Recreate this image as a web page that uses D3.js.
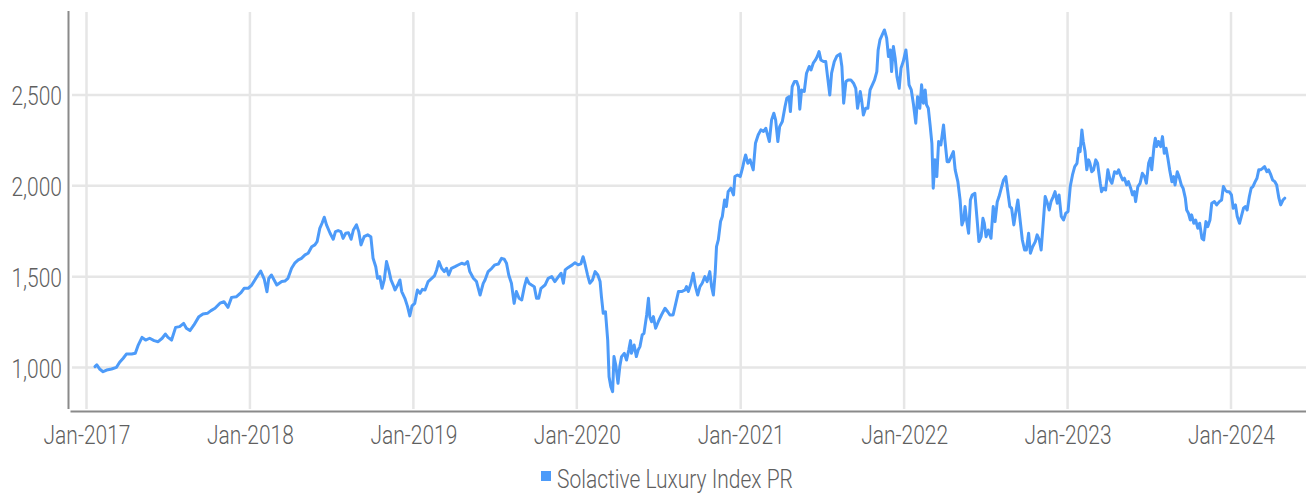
<!DOCTYPE html>
<html><head><meta charset="utf-8">
<script src="https://cdn.jsdelivr.net/npm/d3@7"></script>
<style>
html,body{margin:0;padding:0;background:#fff;}
svg{display:block;}
text{font-family:Roboto,"Liberation Sans",sans-serif;font-weight:300;}
</style></head><body>
<svg id="chart" width="1306" height="496"></svg>
<script>
const seriesName = "Solactive Luxury Index PR";
const yTicks = [1000, 1500, 2000, 2500];
const xTicks = ["2017-01-01","2018-01-01","2019-01-01","2020-01-01","2021-01-01","2022-01-01","2023-01-01","2024-01-01"];

const dates = [
"2017-01-20","2017-01-24","2017-01-31","2017-02-07","2017-02-15","2017-02-26","2017-03-09","2017-03-16","2017-03-24","2017-03-31",
"2017-04-12","2017-04-20","2017-04-26","2017-05-05","2017-05-13","2017-05-22","2017-06-01","2017-06-10","2017-06-19","2017-06-26",
"2017-07-02","2017-07-10","2017-07-19","2017-07-28","2017-08-06","2017-08-12","2017-08-20","2017-08-29","2017-09-09","2017-09-18",
"2017-09-28","2017-10-06","2017-10-15","2017-10-26","2017-11-04","2017-11-13","2017-11-21","2017-12-02","2017-12-12","2017-12-19",
"2017-12-28","2018-01-05","2018-01-12","2018-01-19","2018-01-25","2018-02-02","2018-02-08","2018-02-12","2018-02-18","2018-02-24",
"2018-03-02","2018-03-13","2018-03-20","2018-03-27","2018-04-04","2018-04-11","2018-04-19","2018-04-26","2018-05-04","2018-05-11",
"2018-05-19","2018-05-26","2018-05-31","2018-06-06","2018-06-11","2018-06-16","2018-06-21","2018-06-29","2018-07-06","2018-07-11",
"2018-07-17","2018-07-23","2018-07-28","2018-08-03","2018-08-09","2018-08-15","2018-08-20","2018-08-27","2018-09-01","2018-09-06",
"2018-09-13","2018-09-21","2018-09-28","2018-10-03","2018-10-09","2018-10-13","2018-10-18","2018-10-23","2018-10-28","2018-11-02",
"2018-11-07","2018-11-12","2018-11-17","2018-11-21","2018-11-27","2018-12-02","2018-12-06","2018-12-13","2018-12-19","2018-12-24",
"2018-12-29","2019-01-04","2019-01-10","2019-01-16","2019-01-21","2019-01-27","2019-02-03","2019-02-11","2019-02-17","2019-02-22",
"2019-02-27","2019-03-05","2019-03-11","2019-03-16","2019-03-21","2019-03-27","2019-04-04","2019-04-11","2019-04-19","2019-04-26",
"2019-05-02","2019-05-07","2019-05-15","2019-05-22","2019-05-30","2019-06-06","2019-06-10","2019-06-17","2019-06-25","2019-07-02",
"2019-07-10","2019-07-17","2019-07-23","2019-07-28","2019-08-02","2019-08-08","2019-08-14","2019-08-19","2019-08-25","2019-08-31",
"2019-09-06","2019-09-11","2019-09-16","2019-09-22","2019-09-28","2019-10-03","2019-10-08","2019-10-13","2019-10-22","2019-10-29",
"2019-11-06","2019-11-13","2019-11-21","2019-11-27","2019-12-02","2019-12-06","2019-12-13","2019-12-22","2019-12-28","2020-01-04",
"2020-01-10","2020-01-15","2020-01-19","2020-01-25","2020-01-30","2020-02-05","2020-02-11","2020-02-17","2020-02-22","2020-02-25",
"2020-02-29","2020-03-05","2020-03-10","2020-03-13","2020-03-17","2020-03-21","2020-03-24","2020-03-28","2020-04-02","2020-04-06",
"2020-04-10","2020-04-16","2020-04-21","2020-04-26","2020-04-30","2020-05-02","2020-05-08","2020-05-13","2020-05-17","2020-05-21",
"2020-05-26","2020-05-30","2020-06-05","2020-06-09","2020-06-12","2020-06-16","2020-06-20","2020-06-25","2020-07-01","2020-07-08",
"2020-07-16","2020-07-22","2020-07-27","2020-08-03","2020-08-09","2020-08-15","2020-08-22","2020-08-30","2020-09-02","2020-09-06",
"2020-09-12","2020-09-17","2020-09-22","2020-09-27","2020-10-02","2020-10-07","2020-10-13","2020-10-18","2020-10-24","2020-10-28",
"2020-11-01","2020-11-05","2020-11-08","2020-11-12","2020-11-17","2020-11-21","2020-11-26","2020-11-30","2020-12-04","2020-12-10",
"2020-12-16","2020-12-19","2020-12-25","2020-12-31","2021-01-05","2021-01-09","2021-01-12","2021-01-17","2021-01-22","2021-01-29",
"2021-02-03","2021-02-09","2021-02-15","2021-02-21","2021-02-26","2021-03-02","2021-03-06","2021-03-11","2021-03-16","2021-03-20",
"2021-03-25","2021-03-29","2021-04-04","2021-04-10","2021-04-14","2021-04-19","2021-04-22","2021-04-26","2021-05-01","2021-05-06",
"2021-05-10","2021-05-13","2021-05-17","2021-05-23","2021-05-28","2021-06-03","2021-06-07","2021-06-12","2021-06-17","2021-06-21",
"2021-06-25","2021-06-29","2021-07-05","2021-07-10","2021-07-14","2021-07-19","2021-07-23","2021-07-29","2021-08-04","2021-08-11",
"2021-08-15","2021-08-19","2021-08-24","2021-08-29","2021-09-04","2021-09-10","2021-09-15","2021-09-19","2021-09-25","2021-09-28",
"2021-10-02","2021-10-07","2021-10-12","2021-10-17","2021-10-22","2021-10-27","2021-11-01","2021-11-04","2021-11-08","2021-11-13",
"2021-11-18","2021-11-23","2021-11-27","2021-12-01","2021-12-04","2021-12-08","2021-12-12","2021-12-16","2021-12-21","2021-12-25",
"2021-12-30","2022-01-05","2022-01-08","2022-01-12","2022-01-17","2022-01-22","2022-01-27","2022-01-31","2022-02-05","2022-02-09",
"2022-02-13","2022-02-17","2022-02-20","2022-02-24","2022-02-28","2022-03-04","2022-03-07","2022-03-11","2022-03-15","2022-03-19",
"2022-03-24","2022-03-30","2022-04-02","2022-04-07","2022-04-11","2022-04-16","2022-04-21","2022-04-25","2022-05-01","2022-05-06",
"2022-05-10","2022-05-14","2022-05-17","2022-05-21","2022-05-25","2022-05-29","2022-06-02","2022-06-08","2022-06-13","2022-06-17",
"2022-06-22","2022-06-26","2022-06-29","2022-07-03","2022-07-08","2022-07-14","2022-07-19","2022-07-23","2022-07-28","2022-08-01",
"2022-08-06","2022-08-11","2022-08-16","2022-08-20","2022-08-25","2022-08-29","2022-09-03","2022-09-07","2022-09-12","2022-09-17",
"2022-09-22","2022-09-27","2022-10-01","2022-10-06","2022-10-10","2022-10-15","2022-10-21","2022-10-25","2022-10-30","2022-11-03",
"2022-11-07","2022-11-12","2022-11-16","2022-11-21","2022-11-25","2022-11-30","2022-12-04","2022-12-09","2022-12-13","2022-12-18",
"2022-12-23","2022-12-28","2023-01-02","2023-01-07","2023-01-12","2023-01-17","2023-01-22","2023-01-26","2023-01-29","2023-02-02",
"2023-02-05","2023-02-09","2023-02-13","2023-02-17","2023-02-20","2023-02-24","2023-02-28","2023-03-05","2023-03-09","2023-03-15",
"2023-03-18","2023-03-22","2023-03-27","2023-04-01","2023-04-06","2023-04-10","2023-04-16","2023-04-21","2023-04-25","2023-04-29",
"2023-05-04","2023-05-08","2023-05-13","2023-05-17","2023-05-22","2023-05-26","2023-05-30","2023-06-02","2023-06-07","2023-06-12",
"2023-06-17","2023-06-22","2023-06-26","2023-07-01","2023-07-05","2023-07-08","2023-07-13","2023-07-16","2023-07-19","2023-07-23",
"2023-07-28","2023-08-01","2023-08-05","2023-08-09","2023-08-13","2023-08-17","2023-08-22","2023-08-26","2023-08-29","2023-09-03",
"2023-09-07","2023-09-12","2023-09-16","2023-09-21","2023-09-24","2023-09-28","2023-10-02","2023-10-05","2023-10-10","2023-10-14",
"2023-10-19","2023-10-23","2023-10-28","2023-11-01","2023-11-06","2023-11-10","2023-11-15","2023-11-19","2023-11-25","2023-11-30",
"2023-12-06","2023-12-11","2023-12-15","2023-12-19","2023-12-23","2023-12-28","2024-01-02","2024-01-06","2024-01-11","2024-01-15",
"2024-01-20","2024-01-24","2024-01-29","2024-02-02","2024-02-06","2024-02-11","2024-02-15","2024-02-19","2024-02-24","2024-02-28",
"2024-03-03","2024-03-07","2024-03-12","2024-03-16","2024-03-21","2024-03-25","2024-03-30","2024-04-03","2024-04-08","2024-04-12",
"2024-04-17","2024-04-21","2024-04-26","2024-04-30"
];

const values = [
1005,1015,990,977,986,992,1001,1029,1051,1074,
1074,1078,1120,1166,1151,1161,1148,1142,1161,1184,
1166,1151,1221,1225,1243,1216,1203,1234,1280,1295,
1298,1313,1326,1354,1362,1331,1386,1390,1412,1436,
1436,1454,1482,1509,1531,1486,1417,1490,1509,1482,
1454,1473,1476,1491,1546,1574,1592,1601,1620,1629,
1665,1675,1693,1766,1794,1827,1785,1739,1706,1748,
1754,1748,1711,1739,1742,1706,1757,1785,1748,1675,
1720,1730,1720,1601,1555,1491,1500,1436,1482,1583,
1537,1482,1454,1427,1454,1482,1418,1381,1335,1284,
1339,1353,1427,1408,1430,1427,1473,1491,1504,1537,
1583,1546,1528,1546,1509,1546,1555,1564,1574,1568,
1583,1528,1491,1473,1399,1463,1482,1528,1546,1565,
1570,1601,1596,1574,1509,1464,1353,1418,1381,1372,
1445,1491,1464,1454,1445,1381,1381,1436,1454,1491,
1500,1473,1500,1519,1464,1537,1551,1565,1577,1565,
1570,1610,1574,1509,1464,1482,1528,1509,1473,1390,
1298,1307,1151,949,894,867,1060,1014,913,1005,
1060,1078,1041,1096,1148,1078,1124,1060,1096,1115,
1179,1188,1289,1381,1280,1252,1280,1216,1252,1289,
1326,1307,1289,1289,1353,1418,1418,1427,1445,1418,
1464,1519,1445,1399,1445,1464,1500,1473,1528,1445,
1399,1519,1665,1702,1803,1831,1922,1886,1968,1987,
1950,2051,2060,2051,2097,2143,2170,2124,2143,2088,
2234,2280,2308,2299,2317,2280,2244,2363,2400,2363,
2244,2326,2354,2436,2482,2491,2409,2546,2574,2574,
2546,2422,2528,2519,2620,2657,2638,2675,2693,2712,
2739,2693,2684,2684,2601,2500,2620,2684,2715,2726,
2657,2455,2574,2583,2583,2565,2537,2427,2519,2473,
2390,2427,2427,2528,2556,2583,2629,2748,2803,2831,
2858,2813,2712,2748,2629,2767,2703,2601,2537,2647,
2684,2748,2675,2556,2528,2446,2345,2491,2427,2556,
2455,2528,2446,2427,2335,2234,1987,2143,2051,2244,
2225,2335,2253,2133,2133,2161,2188,2088,2023,1922,
1785,1812,1886,1803,1739,1922,1950,1959,1812,1693,
1720,1821,1794,1720,1757,1711,1886,1803,1913,1941,
1987,2032,2051,1977,1886,1877,1785,1849,1922,1812,
1702,1647,1647,1739,1629,1665,1693,1730,1702,1647,
1775,1941,1913,1867,1913,1941,1968,1904,1950,1831,
1812,1849,1858,1996,2060,2106,2124,2207,2188,2308,
2244,2190,2088,2143,2124,2078,2088,2143,2124,2014,
1968,1987,1977,2088,2032,2014,2078,2069,2088,2060,
2032,2042,2005,2023,1987,1950,1968,1913,1996,2014,
2069,2051,2014,2124,2152,2088,2216,2262,2216,2244,
2216,2271,2179,2207,2152,2088,2023,2051,2005,2078,
2051,2005,1987,1932,1867,1849,1812,1840,1794,1812,
1766,1794,1711,1702,1803,1775,1812,1904,1913,1895,
1913,1922,1996,1977,1968,1968,1950,1877,1895,1831,
1794,1831,1877,1886,1867,1941,1987,1996,2023,2042,
2088,2088,2097,2106,2078,2088,2060,2032,2023,2005,
1932,1895,1922,1932
];

const parse = d3.utcParse("%Y-%m-%d");
const data = dates.map((d, i) => ({ date: parse(d), value: values[i] }));

const lineColor = "#4d9bf9";
const gridColor = "#e6e6e6";
const axisColor = "#8a8a8a";
const textColor = "#5f5f5f";
const fontSize = "25px";
const squeeze = 0.84;

const svg = d3.select("#chart");
const x = d3.scaleUtc().domain([parse(xTicks[0]), parse(xTicks[xTicks.length - 1])]).range([86.5, 1231]);
const y = d3.scaleLinear().domain([1000, 2500]).range([367.5, 95]);

const frame = { left: 68.5, right: 1306, top: 11, bottom: 411.5 };

// grid
svg.append("g").selectAll("line").data(yTicks).join("line")
  .attr("x1", 72).attr("x2", frame.right)
  .attr("y1", d => y(d)).attr("y2", d => y(d))
  .attr("stroke", gridColor).attr("stroke-width", 2.5);
svg.append("g").selectAll("line").data(xTicks.map(parse)).join("line")
  .attr("x1", d => x(d)).attr("x2", d => x(d))
  .attr("y1", 12).attr("y2", 409)
  .attr("stroke", gridColor).attr("stroke-width", 2.5);

// axis lines
svg.append("line").attr("x1", frame.left).attr("x2", frame.left).attr("y1", frame.top).attr("y2", 409)
  .attr("stroke", axisColor).attr("stroke-width", 2);
svg.append("line").attr("x1", 70.5).attr("x2", frame.right).attr("y1", frame.bottom).attr("y2", frame.bottom)
  .attr("stroke", axisColor).attr("stroke-width", 2);

// axis labels
const yAxis = svg.append("g").attr("transform", `translate(${frame.left - 6.5},0)`)
  .call(d3.axisLeft(y).tickValues(yTicks).tickFormat(d3.format(",")).tickSize(0).tickPadding(0));
yAxis.select(".domain").remove();
yAxis.selectAll("text").attr("fill", textColor).style("font-size", fontSize)
  .attr("x", 0).attr("dy", "0.38em").attr("transform", `scale(${squeeze},1)`);

const xAxis = svg.append("g").attr("transform", `translate(0,${frame.bottom})`)
  .call(d3.axisBottom(x).tickValues(xTicks.map(parse)).tickFormat(d3.utcFormat("%b-%Y")).tickSize(0).tickPadding(14.5));
xAxis.select(".domain").remove();
xAxis.selectAll("text").attr("fill", textColor).style("font-size", fontSize).attr("transform", `scale(${squeeze},1)`);

// line
const line = d3.line().x(d => x(d.date)).y(d => y(d.value));
svg.append("path").datum(data)
  .attr("fill", "none").attr("stroke", lineColor).attr("stroke-width", 3)
  .attr("stroke-linejoin", "round").attr("stroke-linecap", "round")
  .attr("d", line);

// legend
const lg = svg.append("g");
lg.append("rect").attr("x", 541).attr("y", 471).attr("width", 10).attr("height", 10).attr("fill", lineColor);
lg.append("text").attr("transform", `translate(557,488) scale(${squeeze},1)`)
  .attr("fill", textColor).style("font-size", fontSize).text(seriesName);
</script>
</body></html>
